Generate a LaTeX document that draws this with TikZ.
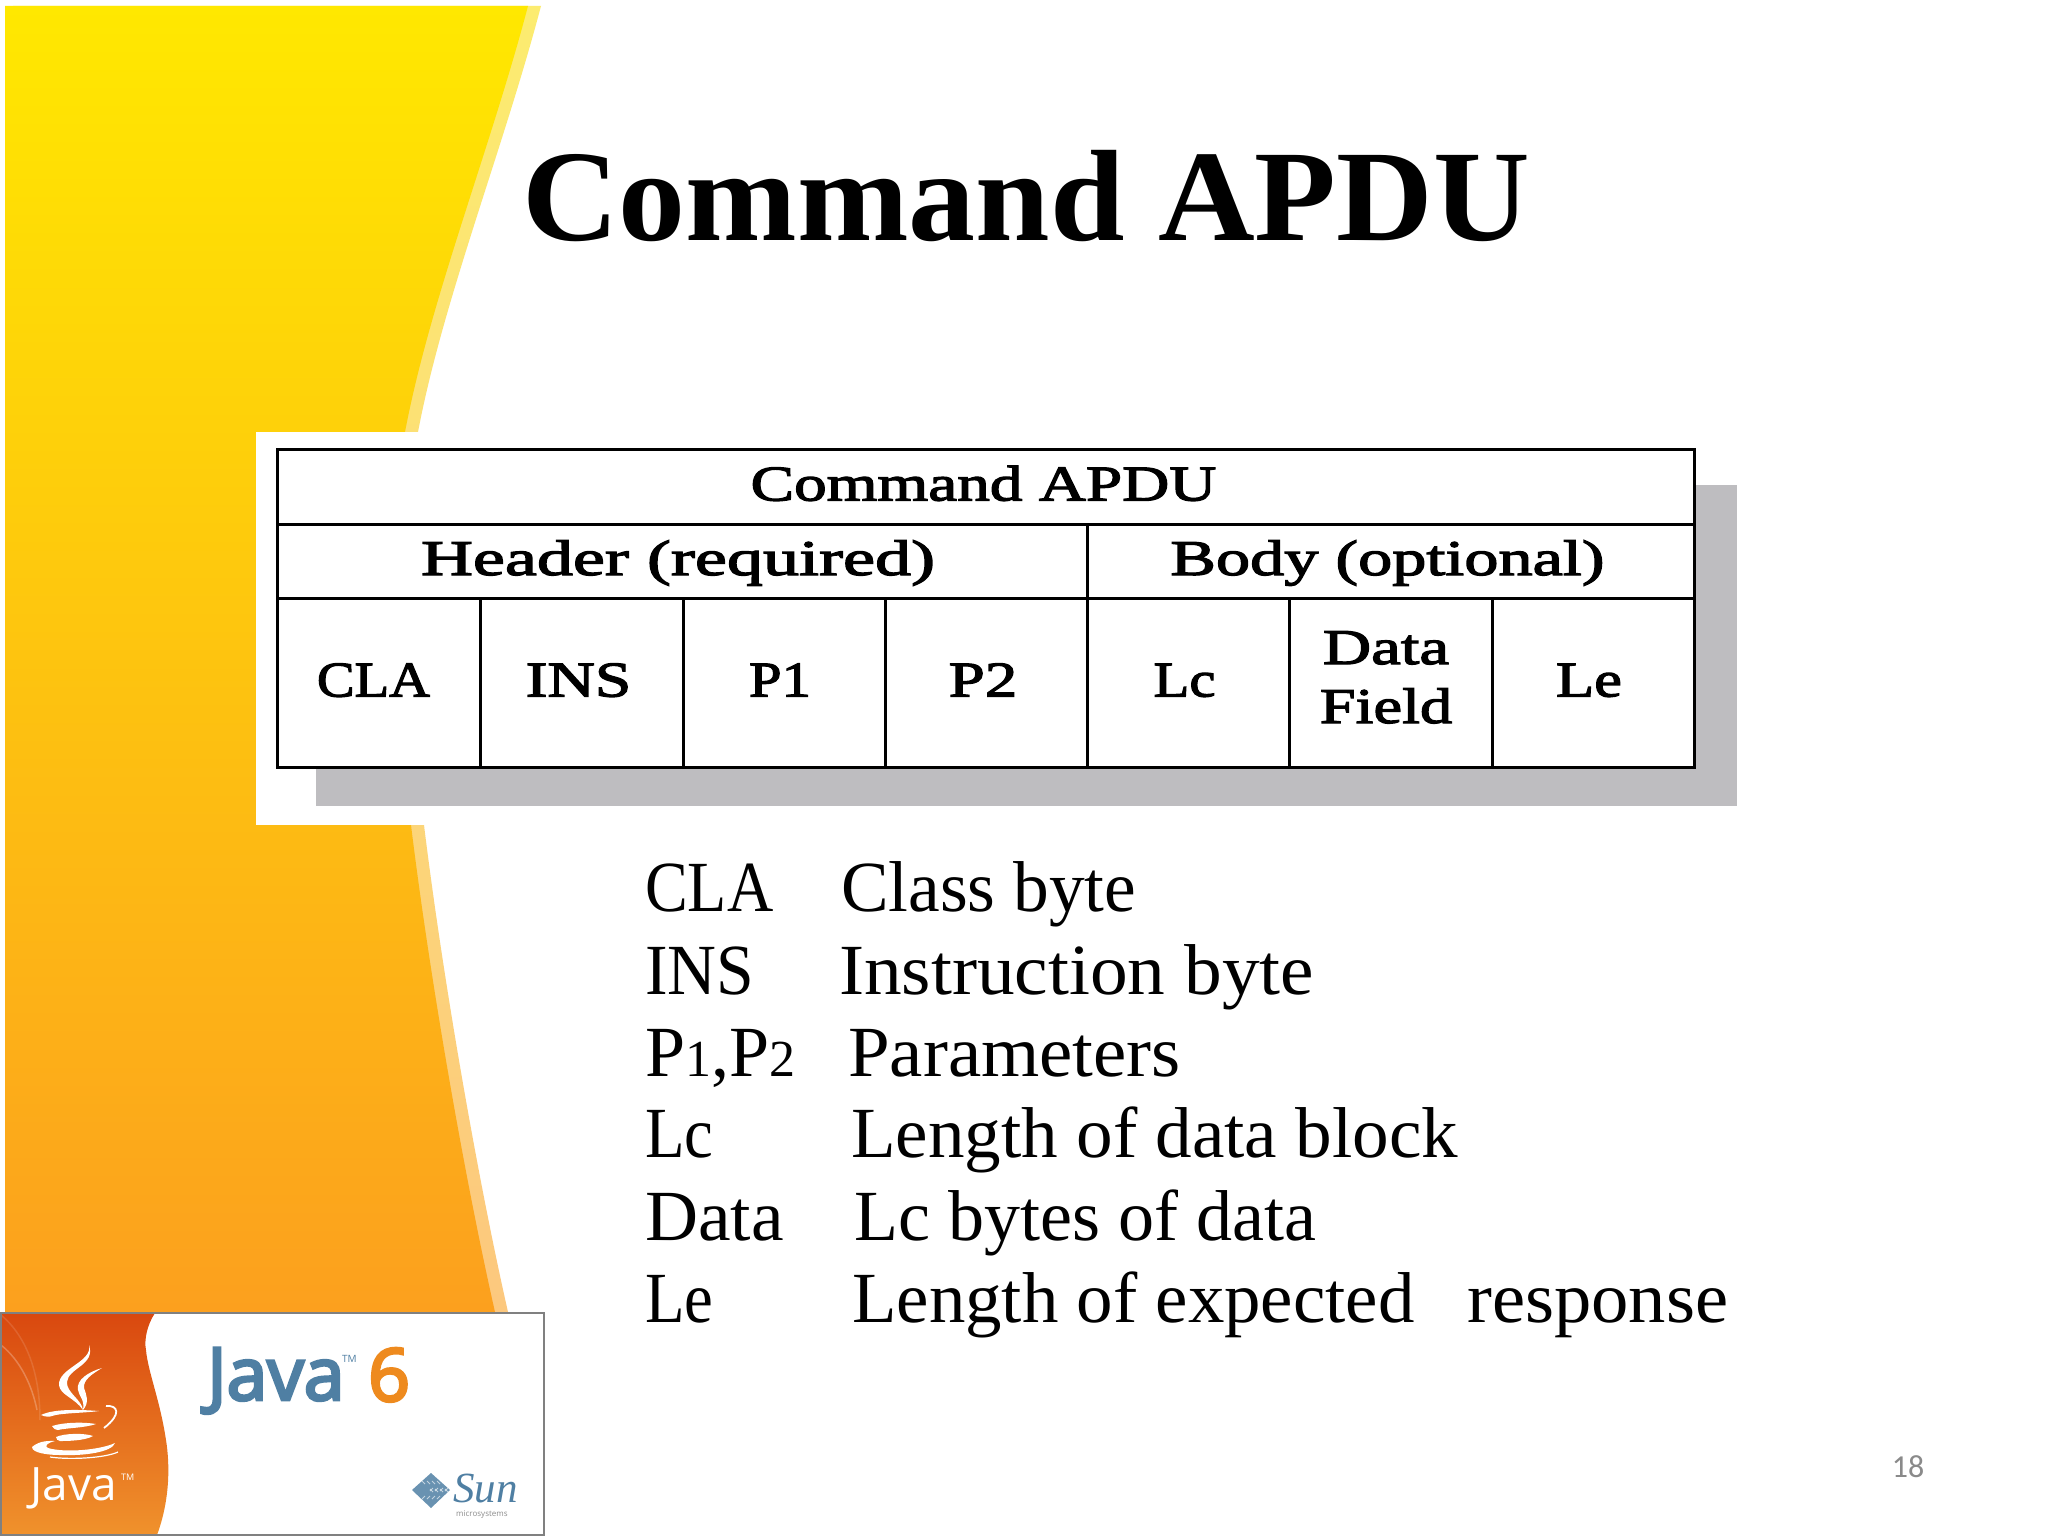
\documentclass[tikz,border=0pt]{standalone}
\usepackage{fontspec}
\setmainfont{Liberation Serif}
\newfontfamily\bmpfont[FakeStretch=1.25,FakeBold=2.5]{Liberation Serif}
\newfontfamily\titlefont[FakeStretch=1.03]{Liberation Serif Bold}
\newfontfamily\sunfont{Liberation Serif Italic}
\newfontfamily\logofont{Open Sans}
\newfontfamily\logobold[FakeBold=4]{Open Sans}
\newfontfamily\numfont{Carlito}
\definecolor{bandA}{HTML}{FFE800}
\definecolor{bandB}{HTML}{FECB0A}
\definecolor{bandC}{HTML}{FCA01E}
\definecolor{paleA}{HTML}{FCEC70}
\definecolor{paleB}{HTML}{FCDD6A}
\definecolor{paleC}{HTML}{FCC87E}
\definecolor{shadowgray}{HTML}{BEBDC0}
\definecolor{logoA}{HTML}{D9480F}
\definecolor{logoB}{HTML}{F0922C}
\definecolor{javablue}{HTML}{4F7FA3}
\definecolor{javaorange}{HTML}{EE8A1E}
\tikzset{
  px/.style={x=1pt,y=-1pt},
  cellbox/.style={draw=black,line width=3pt,fill=white,inner sep=0pt,outer sep=0pt,anchor=north west,
     text height=28pt,text depth=0pt,align=center,
     font=\fontsize{50}{58}\bmpfont},
  listtxt/.style={anchor=base west,inner sep=0pt,font=\fontsize{72}{72}\selectfont},
  logotxt/.style={anchor=base west,inner sep=0pt},
}
\newcommand{\smalldig}[1]{{\fontsize{52}{52}\selectfont #1}}
\newcommand{\hs}[2]{\scalebox{#1}[1]{#2}}
\newcommand{\cl}[3]{\scalebox{#1}[1]{#3}\hspace*{#2pt}}
\newcommand{\bandpath}{(5,6) -- (528,6) .. controls (490,150) and (430,300) .. (405,432)
   .. controls (385,540) and (385,680) .. (411,825)
   .. controls (430,980) and (465,1180) .. (495,1312) -- (5,1312) -- cycle}
\begin{document}
\begin{tikzpicture}[px]
\useasboundingbox (0,0) rectangle (2048,1536);
\fill[white] (0,0) rectangle (2048,1536);
% curved band
\shade[top color=paleA,middle color=paleB,bottom color=paleC,xshift=13pt] (0,6) -- (528,6) .. controls (490,150) and (430,300) .. (405,432)
   .. controls (385,540) and (385,680) .. (411,825)
   .. controls (430,980) and (465,1180) .. (495,1312) -- (0,1312) -- cycle;
\shade[top color=bandA,middle color=bandB,bottom color=bandC] \bandpath;
% title
\node[anchor=base west,inner sep=0pt,font=\fontsize{130}{130}\titlefont] (title) at (522,240) {Command APDU};
% picture with table
\fill[white] (256,432) rectangle (1740,825);
\fill[shadowgray] (316,485) rectangle (1737,806);
\node[cellbox,minimum width=1417pt,minimum height=75pt] (top) at (277,449) {\cl{1.044}{4}{Command APDU}};
\node[cellbox,minimum width=810pt,minimum height=74pt] (head) at (277,524) {\cl{1.153}{8}{Header (required)}};
\node[cellbox,minimum width=607pt,minimum height=74pt] (body) at (1087,524) {\cl{1.092}{6}{Body (optional)}};
\node[cellbox,minimum width=203pt,minimum height=169pt] (cla) at (277,598) {\cl{.905}{10}{CLA}};
\node[cellbox,minimum width=203pt,minimum height=169pt] (ins) at (480,598) {\cl{1.05}{6}{INS}};
\node[cellbox,minimum width=202pt,minimum height=169pt] (pa) at (683,598) {\cl{.94}{8}{P1}};
\node[cellbox,minimum width=202pt,minimum height=169pt] (pb) at (885,598) {\cl{1.04}{6}{P2}};
\node[cellbox,minimum width=202pt,minimum height=169pt] (lc) at (1087,598) {\cl{.94}{7}{Lc}};
\node[cellbox,minimum width=203pt,minimum height=169pt] (df) at (1289,598) {};
\node[anchor=base,inner sep=0pt,font=\fontsize{50}{50}\bmpfont] (dfa) at (1386,664) {\hs{1.07}{Data}};
\node[anchor=base,inner sep=0pt,font=\fontsize{50}{50}\bmpfont] (dfb) at (1386,723) {\hs{1.03}{Field}};
\node[cellbox,minimum width=202pt,minimum height=169pt] (le) at (1492,598) {\cl{1}{8}{Le}};
% list
\node[listtxt] (a1) at (645,911) {\hs{.89}{CLA}};
\node[listtxt] (a2) at (841,911) {\hs{.99}{Class byte}};
\node[listtxt] (b1) at (645,994) {\hs{.94}{INS}};
\node[listtxt] (b2) at (839,994) {\hs{1.046}{Instruction byte}};
\node[listtxt] (c1) at (645,1076) {P\smalldig{1},P\smalldig{2}};
\node[listtxt] (c2) at (848,1076) {\hs{1.04}{Parameters}};
\node[listtxt] (d1) at (645,1157) {\hs{.9}{Lc}};
\node[listtxt] (d2) at (851,1157) {\hs{1.015}{Length of data block}};
\node[listtxt] (e1) at (645,1240) {\hs{1.02}{Data}};
\node[listtxt] (e2) at (854,1240) {Lc bytes of data};
\node[listtxt] (f1) at (645,1322) {\hs{.9}{Le}};
\node[listtxt] (f2) at (852,1322) {\hs{1.012}{Length of expected}};
\node[listtxt] (f3) at (1467,1322) {\hs{1.036}{response}};
% page number
\node[inner sep=0pt,text=black!46,font=\fontsize{32}{32}\numfont] (pg) at (1908,1467) {18};
% logo
\fill[white] (0,1312) rectangle (544,1535);
\shade[top color=logoA,bottom color=logoB] (1,1313) -- (155,1313)
  .. controls (147,1325) and (144,1340) .. (146,1350)
  .. controls (148,1372) and (160,1400) .. (166,1440)
  .. controls (170,1465) and (170,1500) .. (157,1535) -- (1,1535) -- cycle;
\draw[white,opacity=.25,line width=1.5pt] (1,1345) .. controls (20,1360) and (32,1385) .. (37,1410);
\draw[white,opacity=.12,line width=1.5pt] (1,1315) .. controls (25,1335) and (40,1370) .. (40,1420);
% steam
\fill[white] (89,1345) .. controls (93,1362) and (58,1368) .. (59,1385)
  .. controls (60,1395) and (75,1398) .. (83,1410)
  .. controls (82,1400) and (66,1392) .. (67,1382)
  .. controls (68,1368) and (96,1365) .. (89,1345) -- cycle;
\fill[white] (102,1368) .. controls (88,1372) and (76,1380) .. (78,1390)
  .. controls (79,1396) and (85,1400) .. (83,1410)
  .. controls (90,1402) and (86,1394) .. (84,1388)
  .. controls (83,1380) and (92,1374) .. (102,1368) -- cycle;
% cup
\fill[white] (41,1415) .. controls (55,1408) and (85,1410) .. (99,1411)
  .. controls (85,1413) and (60,1413) .. (52,1416)
  .. controls (50,1417) and (45,1417) .. (41,1415) -- cycle;
\fill[white] (52,1426) .. controls (65,1422) and (85,1422) .. (96,1424)
  .. controls (85,1428) and (65,1428) .. (58,1430) .. controls (56,1430) and (53,1429) .. (52,1426) -- cycle;
\fill[white] (56,1437) .. controls (65,1433) and (85,1433) .. (93,1436)
  .. controls (85,1441) and (65,1441) .. (60,1441) .. controls (58,1441) and (56,1439) .. (56,1437) -- cycle;
\draw[white,line width=1.8pt] (106,1406) .. controls (118,1405) and (122,1414) .. (104,1428);
\fill[white] (32,1447) .. controls (40,1440) and (50,1441) .. (55,1441)
  .. controls (47,1443) and (44,1446) .. (48,1448)
  .. controls (65,1453) and (100,1450) .. (115,1443)
  .. controls (112,1452) and (85,1456) .. (60,1455) .. controls (48,1455) and (32,1453) .. (32,1447) -- cycle;
\draw[white,line width=1.2pt] (50,1457) .. controls (70,1460) and (105,1458) .. (118,1452);
\node[logotxt,text=white,font=\fontsize{46}{46}\logofont] (jv) at (30,1500) {Java};
\node[logotxt,text=white,font=\fontsize{9}{9}\logofont] (jvtm) at (121,1480) {TM};
\node[logotxt,text=javablue,font=\fontsize{73}{73}\logobold] (jb) at (207,1400) {Java};
\node[logotxt,text=javablue,font=\fontsize{10}{10}\logofont] (jbtm) at (342,1362) {TM};
\node[logotxt,text=javaorange,font=\fontsize{73}{73}\logobold] (six) at (368,1401) {6};
% Sun logo
\fill[javablue!85] (431,1473) -- (450,1490) -- (431,1508) -- (412,1490) -- cycle;
\foreach \d in {-9,-4,1,6}{
  \draw[white,opacity=.6,line width=.9pt] ([shift={(\d,-9)}]431,1490) -- ++(3,3) ++(5,5) -- ++(3,3);
  \draw[white,opacity=.6,line width=.9pt] ([shift={(\d,9)}]431,1490) -- ++(3,-3) ++(5,-5) -- ++(3,-3);
}
\node[logotxt,text=javablue,font=\fontsize{43}{43}\sunfont] (sun) at (453,1502) {Sun};
\node[logotxt,text=black!45,font=\fontsize{8}{8}\logofont] (micro) at (456,1516) {microsystems};
\draw[black!50,line width=2pt] (1,1313) rectangle (544,1535);
\end{tikzpicture}
\end{document}
